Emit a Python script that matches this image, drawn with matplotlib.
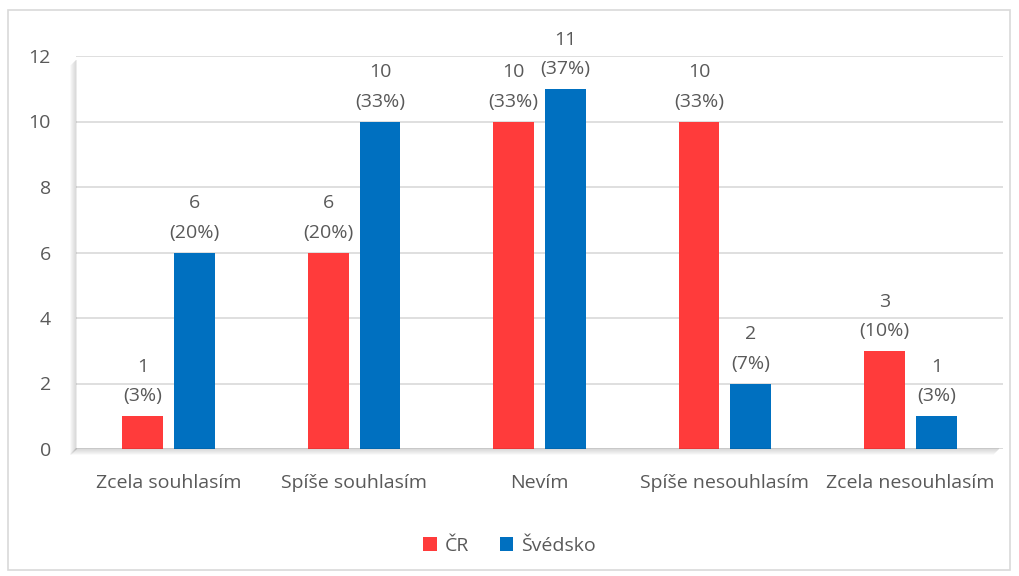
import numpy as np
import matplotlib
matplotlib.use("Agg")
import matplotlib.pyplot as plt
from matplotlib.patches import Rectangle

plt.rcParams["font.family"] = ["Open Sans", "DejaVu Sans"]

# odpovědi a počty respondentů
kategorie = ["Zcela souhlasím", "Spíše souhlasím", "Nevím", "Spíše nesouhlasím", "Zcela nesouhlasím"]
cr = [1, 6, 10, 10, 3]
svedsko = [6, 10, 11, 2, 1]
serie = ["ČR", "Švédsko"]
barvy = ["#FF3B3B", "#0070C0"]
text_barva = "#595959"
vel = 14

fig = plt.figure(figsize=(10.19, 5.76), dpi=100)
fig.patch.set_facecolor("white")

# rámeček kolem celého grafu
fig.patches.append(Rectangle((8 / 1019, 6 / 576), 1002 / 1019, 560 / 576,
                             transform=fig.transFigure, fill=False,
                             edgecolor="#D9D9D9", linewidth=1.2))

ax = fig.add_axes([76 / 1019, 127 / 576, 927 / 1019, 393 / 576])

# stín plochy grafu (vlevo a dole)
for i in range(6):
    a = 0.08 - i * 0.012
    fig.patches.append(Rectangle(((76 - 1 - i) / 1019, (127 - 1 - i) / 576), 2 / 1019, (393 - 3) / 576,
                                 transform=fig.transFigure, color="black", alpha=a, lw=0))
    fig.patches.append(Rectangle(((76 - 1 - i) / 1019, (127 - 1 - i) / 576), (927 - 3) / 1019, 2 / 576,
                                 transform=fig.transFigure, color="black", alpha=a, lw=0))

x = np.arange(len(kategorie))
sirka = 0.22
posun = 0.28
for hodnoty, nazev, barva, dx in zip([cr, svedsko], serie, barvy, [-posun / 2, posun / 2]):
    celkem = sum(hodnoty)
    bars = ax.bar(x + dx, hodnoty, sirka, color=barva, label=nazev, zorder=3)
    for b, v in zip(bars, hodnoty):
        ax.text(b.get_x() + b.get_width() / 2, v + 0.33,
                f"{v}\n({round(v / celkem * 100)}%)",
                ha="center", va="bottom", fontsize=vel, color=text_barva,
                linespacing=1.8)

ax.set_xlim(-0.5, len(kategorie) - 0.5)
ax.set_ylim(0, 12)
ax.set_yticks(range(0, 13, 2))
ax.set_xticks(x)
ax.set_xticklabels(kategorie)
ax.tick_params(axis="both", length=0, labelsize=vel, labelcolor=text_barva)
ax.tick_params(axis="x", pad=18)
ax.tick_params(axis="y", pad=18)
ax.grid(axis="y", color="#D9D9D9", linewidth=1.2, zorder=0)
for s in ax.spines.values():
    s.set_visible(False)
ax.axhline(0, color="#D9D9D9", linewidth=1.2, zorder=2)

leg = fig.legend(loc="center", bbox_to_anchor=(0.5, 1 - 546 / 576), ncol=2, frameon=False,
                 fontsize=vel, handlelength=0.7, handleheight=0.7, handletextpad=0.4,
                 columnspacing=1.6)
for t in leg.get_texts():
    t.set_color(text_barva)

fig.savefig("out.png", dpi=100)
